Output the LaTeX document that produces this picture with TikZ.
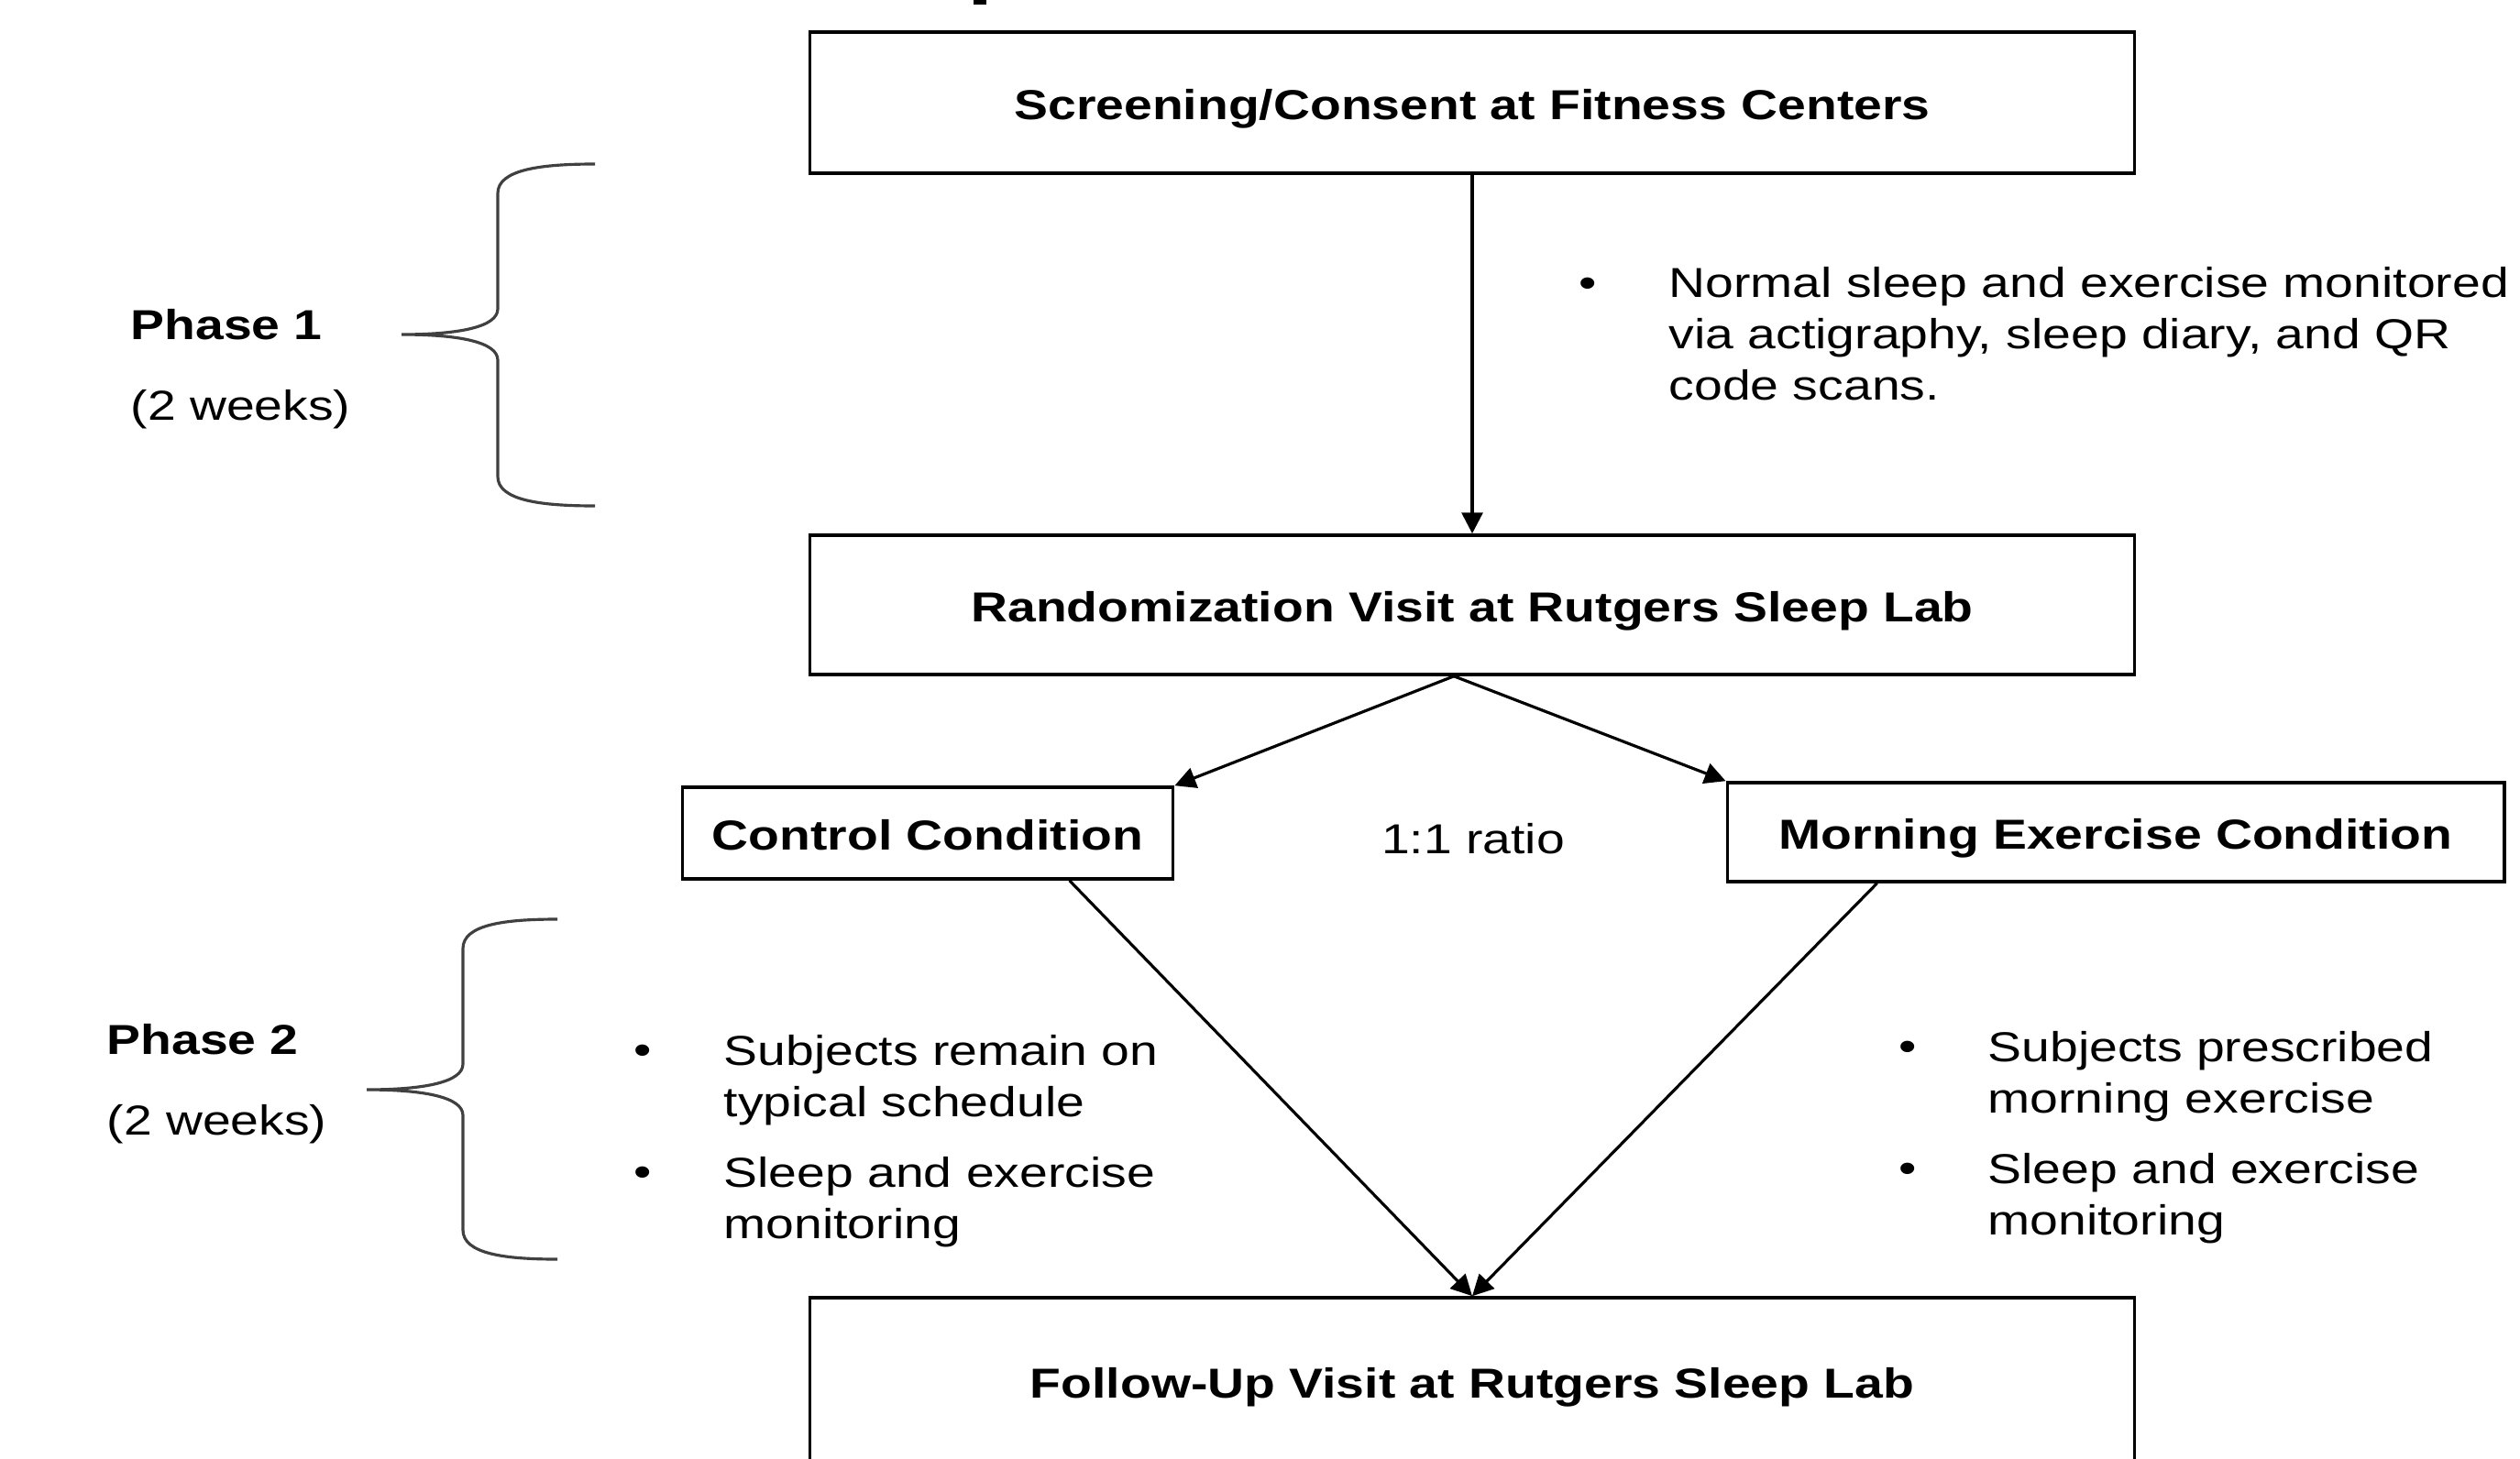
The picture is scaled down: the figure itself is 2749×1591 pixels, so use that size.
\documentclass[tikz,border=0pt]{standalone}
\usepackage{fontspec}
\setmainfont{Liberation Sans}
\usepackage{graphicx}
\usetikzlibrary{calc, arrows.meta}

\newcommand{\wide}[1]{\scalebox{1.21}[1]{#1}}
\newcommand{\lines}[1]{\wide{\begin{tabular}{@{}l@{}}#1\end{tabular}}}
\newcommand{\boxtxt}[1]{\wide{\bfseries #1}}

\begin{document}
\begin{tikzpicture}[x=0.01cm, y=-0.01cm, >={Triangle[length=6.5pt, width=6.5pt]},
    font=\fontsize{13}{15.9}\selectfont,
    box/.style={draw, line width=1pt, inner sep=0pt, text height=10.4pt, text depth=0pt},
    txt/.style={inner sep=0pt},
    brace/.style={draw=black!75, line width=0.9pt},
    link/.style={->, line width=0.9pt}]
    \useasboundingbox (0,0) rectangle (2749,1591);

    % Boxes
    \node[box, minimum width=14.44cm, minimum height=1.54cm] (screen) at (1606,112) {\boxtxt{Screening/Consent at Fitness Centers}};
    \node[box, minimum width=14.44cm, minimum height=1.52cm] (rand) at (1606,660) {\boxtxt{Randomization Visit at Rutgers Sleep Lab}};
    \node[box, minimum width=5.35cm, minimum height=1.00cm] (control) at (1012,909) {\boxtxt{Control Condition}};
    \node[box, minimum width=8.47cm, minimum height=1.08cm] (morning) at (2308,908) {\boxtxt{Morning Exercise Condition}};
    \node[box, minimum width=14.44cm, minimum height=1.82cm] (follow) at (1606,1507) {\boxtxt{Follow-Up Visit at Rutgers Sleep Lab}};

    % Text
    \node[txt] (ratio) at (1607,915) {\wide{1:1 ratio}};
    \node[txt, anchor=west] (ph1) at (142,354) {\wide{\bfseries Phase 1}};
    \node[txt, anchor=west] (wk1) at (142,447) {\wide{(2 weeks)}};
    \node[txt, anchor=west] (ph2) at (116,1134) {\wide{\bfseries Phase 2}};
    \node[txt, anchor=west] (wk2) at (116,1227) {\wide{(2 weeks)}};

    % Bullets
    \node[txt] (b1) at (1732,314) {\wide{•}};
    \node[txt, anchor=west] (t1) at (1820,369) {\lines{Normal sleep and exercise monitored\\via actigraphy, sleep diary, and QR\\code scans.}};
    \node[txt] (b2) at (701,1151) {\wide{•}};
    \node[txt, anchor=west] (t2) at (789,1179) {\lines{Subjects remain on\\typical schedule}};
    \node[txt] (b3) at (701,1284) {\wide{•}};
    \node[txt, anchor=west] (t3) at (789,1312) {\lines{Sleep and exercise\\monitoring}};
    \node[txt] (b4) at (2081,1147) {\wide{•}};
    \node[txt, anchor=west] (t4) at (2168,1175) {\lines{Subjects prescribed\\morning exercise}};
    \node[txt] (b5) at (2081,1280) {\wide{•}};
    \node[txt, anchor=west] (t5) at (2168,1308) {\lines{Sleep and exercise\\monitoring}};

    % Lines
    \coordinate (split) at ($(rand.south)+(-20,0)$);
    \draw[link] (screen) -- (rand);
    \draw[link] (split) -- (control.north east);
    \draw[link] (split) -- (morning.north west);
    \draw[link] ($(control.south west)!0.787!(control.south east)$) -- (follow.north);
    \draw[link] ($(morning.south west)!0.194!(morning.south east)$) -- (follow.north);

    % Braces
    \draw[brace] (649,179) .. controls (590,179) and (543,185) .. (543,211) -- (543,337)
        .. controls (543,357) and (500,365) .. (438,365)
        .. controls (500,365) and (543,373) .. (543,393) -- (543,520)
        .. controls (543,546) and (590,552) .. (649,552);
    \draw[brace] (608,1003) .. controls (550,1003) and (505,1009) .. (505,1035) -- (505,1161)
        .. controls (505,1181) and (462,1189) .. (400,1189)
        .. controls (462,1189) and (505,1197) .. (505,1217) -- (505,1342)
        .. controls (505,1368) and (550,1374) .. (608,1374);

    % Mark at top
    \fill (1062,0) rectangle (1076,5);
\end{tikzpicture}
\end{document}
